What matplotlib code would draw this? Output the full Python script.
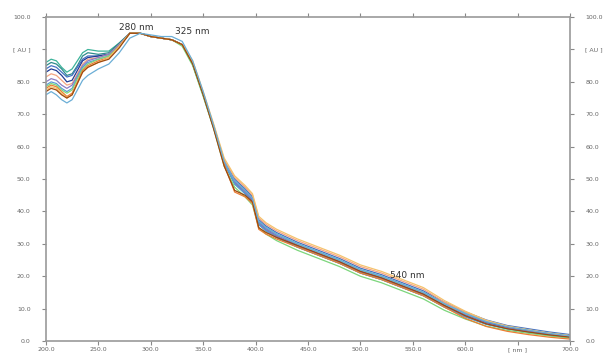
import matplotlib.pyplot as plt

wavelength = [200, 205, 210, 215, 220, 225, 230, 235, 240, 250, 260, 270,
              280, 290, 300, 310, 320, 330, 340, 350, 360, 370, 380, 390, 397, 403,
              410, 420, 440, 460, 480, 500, 520, 540, 560, 580, 600, 620, 640, 660, 680, 700]

s1 = [86, 87, 86.5, 84.5, 83, 84, 86.5, 89, 90, 89.5, 89.5, 92,
      95, 95, 94, 93.5, 93, 91.5, 85.5, 76, 66, 55, 49.5, 46.5, 44, 37,
      35, 33, 30, 27.5, 25, 22, 20, 17.5, 15, 11.5, 8.5, 6, 4.2, 3.2, 2.2, 1.4]
s2 = [85, 86, 85.5, 84, 82, 82.5, 85, 88, 89, 88.5, 89, 92,
      95, 95, 94, 93.5, 93, 91.5, 85.5, 76, 66, 55, 48.5, 45.5, 43, 36,
      34, 32, 29, 26.5, 24, 21, 19, 16.5, 14, 10.5, 7.5, 5.2, 3.8, 2.8, 1.8, 1.0]
s3 = [84, 85, 84.5, 83, 81.5, 82, 84.5, 87, 88, 88, 88.5, 91.5,
      95, 95, 94, 93.5, 93, 91.5, 85.5, 76, 66.5, 55.5, 50, 47, 44.5, 37.5,
      35.5, 33.5, 30.5, 28, 25.5, 22.5, 20.5, 18, 15.5, 12, 9, 6.5, 4.8, 3.8, 2.8, 2.0]
s4 = [83, 84, 83.5, 82, 80, 80.5, 83.5, 86.5, 87.5, 88, 88.5, 91.5,
      95, 95, 94, 93.5, 93, 91.5, 85.5, 76, 66, 55, 49, 46, 43.5, 36.5,
      34.5, 32.5, 29.5, 27, 24.5, 21.5, 19.5, 17, 14.5, 11, 8, 5.6, 4.2, 3.2, 2.3, 1.6]
s5 = [81.5, 82.5, 82, 80.5, 79, 79.5, 82.5, 85.5, 87, 87.5, 88.5, 91.5,
      95, 95, 94, 93.5, 93, 91.5, 86, 76.5, 66.5, 56, 50.5, 47.5, 45, 38,
      36, 34, 31, 28.5, 26, 23, 21, 18.5, 16, 12, 9, 6.3, 4.5, 3.4, 2.4, 1.6]
s6 = [80, 81, 80.5, 79, 78, 79, 82, 85, 86.5, 87.5, 88.5, 91.5,
      95, 95, 94, 93.5, 93, 91.5, 85.5, 76, 66, 55, 49, 46, 43.5, 36.5,
      34.5, 32.5, 29.5, 27, 24.5, 21.5, 19.5, 17, 14.5, 11, 8, 5.5, 4, 3, 2, 1.2]
s7 = [79, 80, 79.5, 78, 77, 78, 81.5, 84.5, 86, 87, 88, 91,
      95, 95, 94, 93.5, 93, 91.5, 85.5, 76, 66, 55, 48.5, 45.5, 43, 36,
      34, 32, 29, 26.5, 24, 21, 19, 16.5, 14, 10.5, 7.5, 5.2, 3.8, 2.8, 1.9, 1.1]
s8 = [78.5, 79.5, 79, 77.5, 76.5, 77.5, 81, 84, 85.5, 87, 88, 91,
      95, 95, 94, 93.5, 93, 91, 85, 75.5, 65.5, 54, 47.5, 44.5, 42, 35,
      33, 31, 28, 25.5, 23, 20, 18, 15.5, 13, 9.5, 6.8, 4.6, 3.3, 2.4, 1.6, 0.9]
s9 = [78, 79, 78.5, 77, 75.5, 76.5, 80, 83.5, 85, 86.5, 87.5, 91,
      95, 95, 94, 93.5, 93, 91.5, 86, 76.5, 66, 54.5, 46, 44.5, 42.5, 34.5,
      33, 31.5, 29, 26.5, 24, 21, 19, 16.5, 14, 10.5, 7, 4.5, 3, 2, 1.2, 0.6]
s10 = [77.5, 78.5, 78, 76.5, 75, 76, 79.5, 83, 84.5, 86, 87.5, 91,
       95, 95, 94, 93.5, 93, 91.5, 86.5, 77, 67, 56.5, 51, 48, 45.5, 38.5,
       36.5, 34.5, 31.5, 29, 26.5, 23.5, 21.5, 19, 16.5, 12.5, 9.2, 6.4, 4.6, 3.5, 2.5, 1.7]
s11 = [77, 78, 77.5, 76, 75, 76, 79.5, 83, 84.5, 86, 87, 90.5,
       95, 95, 94, 93.5, 93, 91.5, 85.5, 76, 65.5, 54, 46.5, 45, 43, 35,
       33.5, 32, 29.5, 27, 24.5, 21.5, 19.5, 17, 14.5, 11, 7.8, 5.3, 3.8, 2.8, 1.9, 1.2]
s12 = [76, 77, 76, 74.5, 73.5, 74.5, 77.5, 80.5, 82, 84, 85.5, 89,
       93.5, 95, 94.5, 94, 94, 92.5, 86.5, 77, 66.5, 55.5, 49.5, 46.5, 44, 37,
       35, 33, 30, 27.5, 25, 22, 20, 17.5, 15, 11.5, 8.5, 6, 4.4, 3.4, 2.4, 1.6]

series = [s1, s2, s3, s4, s5, s6, s7, s8, s9, s10, s11, s12]
colors = ['#3cb39a', '#2e8b8b', '#4472c4', '#1f3a93', '#f4a582', '#8e7cc3',
          '#5b9bd5', '#7cd67c', '#ed7d31', '#f5c26b', '#9e480e', '#6baed6']

x_ticks = [200, 250, 300, 350, 400, 450, 500, 550, 600, 650, 700]
x_labels = ['200.0', '250.0', '300.0', '350.0', '400.0', '450.0', '500.0',
            '550.0', '600.0', '[ nm ]', '700.0']
y_ticks = [0, 10, 20, 30, 40, 50, 60, 70, 80, 90, 100]
y_labels = ['0.0', '10.0', '20.0', '30.0', '40.0', '50.0', '60.0', '70.0',
            '80.0', '[ AU ]', '100.0']

fig = plt.figure(figsize=(6.04, 3.56), dpi=100)
ax = fig.add_axes([0.076, 0.042, 0.868, 0.91])

for vals, c in zip(series, colors):
    ax.plot(wavelength, vals, color=c, linewidth=0.9)

ax.set_xlim(200, 700)
ax.set_ylim(0, 100)
ax.set_xticks(x_ticks)
ax.set_xticklabels(x_labels)
ax.set_yticks(y_ticks)
ax.set_yticklabels(y_labels)
ax.tick_params(axis='both', direction='out', length=3, width=0.8, color='#888888',
               labelsize=4.5, labelcolor='#666666', top=True, right=True,
               labelright=True)
ax.tick_params(axis='y', pad=8)
ax.tick_params(axis='x', pad=1.5)
for sp in ax.spines.values():
    sp.set_color('#999999')
    sp.set_linewidth(1.2)

# peak labels
ax.text(286, 95.3, '280 nm', fontsize=6.5, color='#333333', ha='center', va='bottom')
ax.text(340, 94.2, '325 nm', fontsize=6.5, color='#333333', ha='center', va='bottom')
ax.text(545, 18.8, '540 nm', fontsize=6.5, color='#333333', ha='center', va='bottom')

plt.savefig('out.png', dpi=100)
